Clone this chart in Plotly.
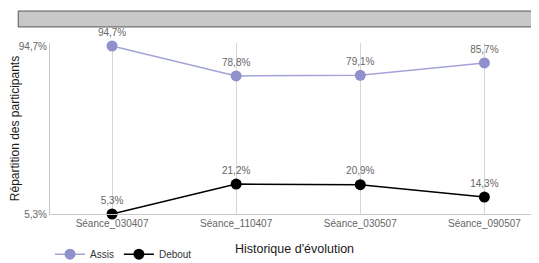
import plotly.graph_objects as go

categories = ["Séance_030407", "Séance_110407", "Séance_030507", "Séance_090507"]
assis = [94.7, 78.8, 79.1, 85.7]
debout = [5.3, 21.2, 20.9, 14.3]
ytick_vals = [5.3, 94.7]
ytick_text = ["5,3%", "94,7%"]

def fmt(v):
    return f"{v:.1f}".replace(".", ",") + "%"

fig = go.Figure()
fig.add_trace(go.Scatter(
    x=categories, y=assis, name="Assis", mode="lines+markers+text",
    line=dict(color="#a3a3d9", width=1.5),
    marker=dict(color="#9090cc", size=11),
    text=[fmt(v) for v in assis], textposition="top center",
    textfont=dict(size=10, color="#666666", family="Liberation Sans"),
    cliponaxis=False,
))
fig.add_trace(go.Scatter(
    x=categories, y=debout, name="Debout", mode="lines+markers+text",
    line=dict(color="#000000", width=1.5),
    marker=dict(color="#000000", size=11),
    text=[fmt(v) for v in debout], textposition="top center",
    textfont=dict(size=10, color="#666666", family="Liberation Sans"),
    cliponaxis=False,
))

fig.add_shape(type="rect", xref="paper", yref="paper",
              x0=-0.065, x1=1.03, y0=1.094, y1=1.187,
              fillcolor="#c8c8c8", line=dict(color="#555555", width=1))

fig.update_layout(
    width=539, height=263,
    margin=dict(l=42, r=8, t=35, b=57, autoexpand=False),
    paper_bgcolor="white", plot_bgcolor="white",
    font=dict(family="Liberation Sans", size=10, color="#555555"),
    showlegend=True,
    legend=dict(orientation="h", x=0.0, y=-0.15, xanchor="left", yanchor="top",
                font=dict(size=10, color="#333333"), itemwidth=30,
                tracegroupgap=0),
    xaxis=dict(
        type="category", range=[-0.5, 3.44], automargin=False,
        showgrid=True, gridcolor="#d6d6d6", gridwidth=1,
        showline=True, linecolor="#c8c8c8", ticks="",
        tickfont=dict(size=10, color="#666666"),
        title=dict(text="Historique d'évolution", font=dict(size=12.5, color="#1a1a1a"), standoff=16),
        zeroline=False,
    ),
    yaxis=dict(
        range=[5.3, 96.3], automargin=False,
        tickvals=ytick_vals, ticktext=ytick_text,
        showgrid=False, showline=True, linecolor="#c8c8c8", ticks="",
        tickfont=dict(size=10, color="#666666"),
        title=dict(text="Répartition des participants", font=dict(size=12, color="#1a1a1a"), standoff=0),
        zeroline=False,
    ),
)

fig.write_html("out.html")
